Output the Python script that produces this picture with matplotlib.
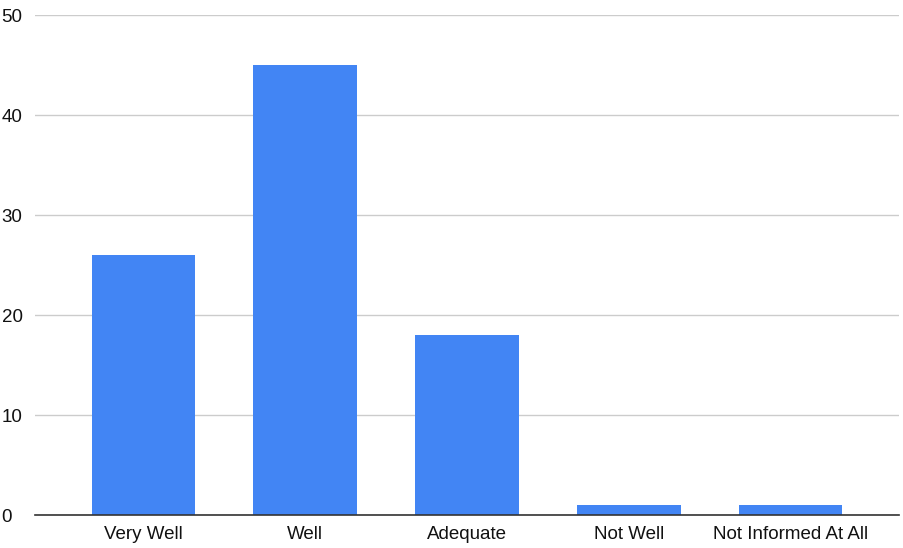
import matplotlib
matplotlib.use("Agg")
import matplotlib.pyplot as plt

categories = ["Very Well", "Well", "Adequate", "Not Well", "Not Informed At All"]
counts = [26, 45, 18, 1, 1]
y_ticks = [0, 10, 20, 30, 40, 50]

plt.rcParams["font.family"] = ["Liberation Sans", "DejaVu Sans"]

fig = plt.figure(figsize=(9.04, 5.48), dpi=100)
ax = fig.add_axes([35 / 904, 33 / 548, 864 / 904, 500 / 548])

x = range(len(categories))
ax.bar(x, counts, width=0.64, color="#4285f4", zorder=3)

ax.set_xlim(-0.67, len(categories) - 0.33)
ax.set_ylim(0, 50)
ax.set_yticks(y_ticks)
ax.set_xticks(list(x))
ax.set_xticklabels(categories)
ax.tick_params(axis="both", length=0, labelsize=13.5, colors="#111111")
ax.tick_params(axis="y", pad=24)
ax.tick_params(axis="x", pad=8)
for lbl in ax.get_yticklabels():
    lbl.set_horizontalalignment("left")

ax.grid(axis="y", color="#cccccc", linewidth=1, zorder=0)
for side in ["top", "right", "left"]:
    ax.spines[side].set_visible(False)
ax.spines["bottom"].set_color("#333333")
ax.spines["bottom"].set_linewidth(1.2)
ax.spines["bottom"].set_zorder(4)

fig.savefig("out.png", dpi=100)
